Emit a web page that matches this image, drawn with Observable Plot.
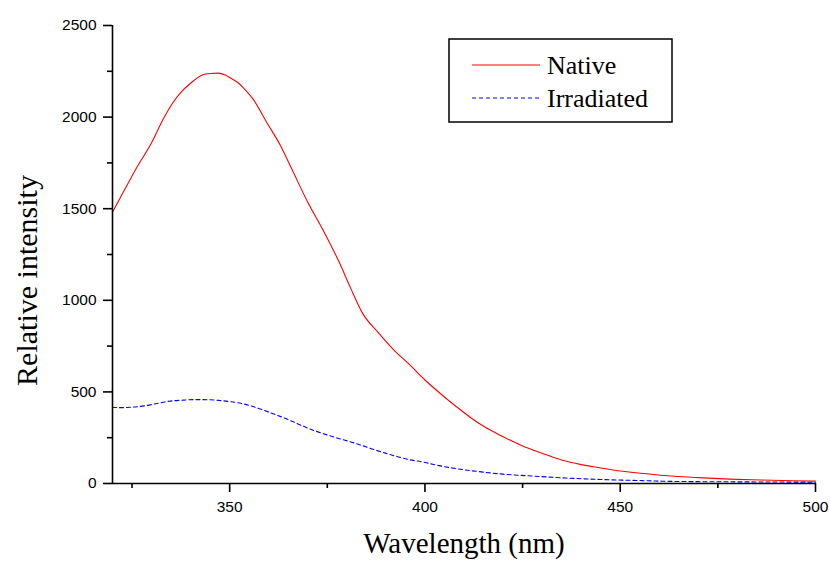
<!DOCTYPE html>
<html>
<head>
<meta charset="utf-8">
<script src="https://cdn.jsdelivr.net/npm/d3@7"></script>
<script src="https://cdn.jsdelivr.net/npm/@observablehq/plot@0.6"></script>
<style>
  html, body { margin: 0; padding: 0; background: #fff; }
  #wrap { position: relative; width: 830px; height: 563px; }
  #legend { position: absolute; left: 0; top: 0; pointer-events: none; }
</style>
</head>
<body>
<div id="wrap"></div>
<script>
// Data
const nativeWavelength = [320, 322.5, 326, 330, 333, 335.5, 337.5, 340, 343, 345, 347, 349, 350, 352, 353.5, 356, 359.5, 363, 366, 370, 374, 378, 381, 384, 388, 392, 396, 400, 404, 408, 412, 416, 420, 425, 430, 435, 440, 445, 450, 456, 462, 470, 478, 486, 494, 500];
const nativeIntensity  = [1480, 1580, 1717, 1860, 1990, 2080, 2135, 2185, 2230, 2238, 2240, 2228, 2216, 2190, 2160, 2098, 1971, 1845, 1712, 1535, 1380, 1210, 1065, 930, 825, 730, 650, 565, 490, 420, 355, 300, 255, 205, 165, 128, 103, 85, 68, 55, 42, 32, 24, 19, 15, 13];

const irrWavelength = [320, 322, 324.5, 328.5, 331.5, 334.5, 338, 341.5, 345, 347.5, 350, 353.5, 356, 358.5, 361.5, 364.5, 367.5, 370.5, 374, 377.5, 381, 384, 387, 390, 393, 396, 400, 402, 406, 410, 415, 420, 428, 436, 445, 455, 462, 470, 480, 490, 500];
const irrIntensity  = [416, 414, 416, 425, 437, 449, 455, 458, 457, 453, 447, 435, 420, 402, 378, 353, 325, 298, 272, 248, 227, 207, 185, 165, 146, 130, 115, 105, 88, 75, 62, 51, 40, 30, 22, 16, 12, 10, 9, 8, 7];

const xDomain = [320, 500];
const yDomain = [0, 2500];
const xMajorTicks = [350, 400, 450, 500];
const xMinorTicks = [325, 375, 425, 475];
const yMajorTicks = [0, 500, 1000, 1500, 2000, 2500];
const yMinorTicks = [250, 750, 1250, 1750, 2250];
const seriesNames = ["Native", "Irradiated"];
const xTitle = "Wavelength (nm)";
const yTitle = "Relative intensity";

const native = nativeWavelength.map((w, i) => ({w, v: nativeIntensity[i]}));
const irradiated = irrWavelength.map((w, i) => ({w, v: irrIntensity[i]}));

const serif = "'Liberation Serif', 'Times New Roman', serif";

const chart = Plot.plot({
  width: 830,
  height: 563,
  marginLeft: 112,
  marginRight: 15,
  marginTop: 25,
  marginBottom: 80,
  style: {fontFamily: "'Liberation Sans', Arial, sans-serif", fontSize: "15px", color: "#000", background: "#fff"},
  x: {domain: xDomain},
  y: {domain: yDomain},
  marks: [
    Plot.lineY(irradiated, {x: "w", y: "v", stroke: "#0000ff", strokeWidth: 1.1, strokeDasharray: "4,3", curve: "monotone-x"}),
    Plot.lineY(native, {x: "w", y: "v", stroke: "#ff0000", strokeWidth: 1.1, curve: "monotone-x"}),
    Plot.ruleX([xDomain[0]], {y1: yDomain[0], y2: yDomain[1], stroke: "#000", strokeWidth: 1.6}),
    Plot.ruleY([yDomain[0]], {x1: xDomain[0], x2: xDomain[1], stroke: "#000", strokeWidth: 1.6}),
    Plot.axisX({ticks: xMajorTicks, tickSize: 9, tickPadding: 8, tickFormat: "d", label: null, strokeWidth: 1.6, fontSize: 15.5}),
    Plot.axisX({ticks: xMinorTicks, tickSize: 5, tickFormat: () => "", label: null, strokeWidth: 1.6}),
    Plot.axisY({ticks: yMajorTicks, tickSize: 9, tickPadding: 7, tickFormat: "d", label: null, strokeWidth: 1.6, fontSize: 15.5}),
    Plot.axisY({ticks: yMinorTicks, tickSize: 5, tickFormat: () => "", label: null, strokeWidth: 1.6}),
    Plot.text([xTitle], {text: d => d, frameAnchor: "bottom", textAnchor: "middle", dy: 69, fontFamily: serif, fontSize: 29, fill: "#000"}),
    Plot.text([yTitle], {text: d => d, frameAnchor: "left", textAnchor: "middle", rotate: -90, dx: -85, dy: 26, fontFamily: serif, fontSize: 30, fill: "#000"})
  ]
});

const wrap = document.getElementById("wrap");
wrap.appendChild(chart);

// Legend overlay (inside the plot area, top right)
const ns = "http://www.w3.org/2000/svg";
const leg = document.createElementNS(ns, "svg");
leg.setAttribute("id", "legend");
leg.setAttribute("width", 830);
leg.setAttribute("height", 563);
const colors = ["#ff0000", "#0000ff"];
const dashes = [null, "4,3"];
const box = document.createElementNS(ns, "rect");
box.setAttribute("x", 449); box.setAttribute("y", 39);
box.setAttribute("width", 223); box.setAttribute("height", 83);
box.setAttribute("fill", "#fff"); box.setAttribute("stroke", "#000"); box.setAttribute("stroke-width", 1.5);
leg.appendChild(box);
seriesNames.forEach((name, i) => {
  const yy = 65 + i * 33;
  const ln = document.createElementNS(ns, "line");
  ln.setAttribute("x1", 472); ln.setAttribute("x2", 540);
  ln.setAttribute("y1", yy); ln.setAttribute("y2", yy);
  ln.setAttribute("stroke", colors[i]); ln.setAttribute("stroke-width", 1.1);
  if (dashes[i]) ln.setAttribute("stroke-dasharray", dashes[i]);
  leg.appendChild(ln);
  const t = document.createElementNS(ns, "text");
  t.setAttribute("x", 547); t.setAttribute("y", yy + 9);
  t.setAttribute("font-family", serif); t.setAttribute("font-size", 26);
  t.setAttribute("fill", "#000");
  t.textContent = name;
  leg.appendChild(t);
});
wrap.appendChild(leg);
</script>
</body>
</html>
